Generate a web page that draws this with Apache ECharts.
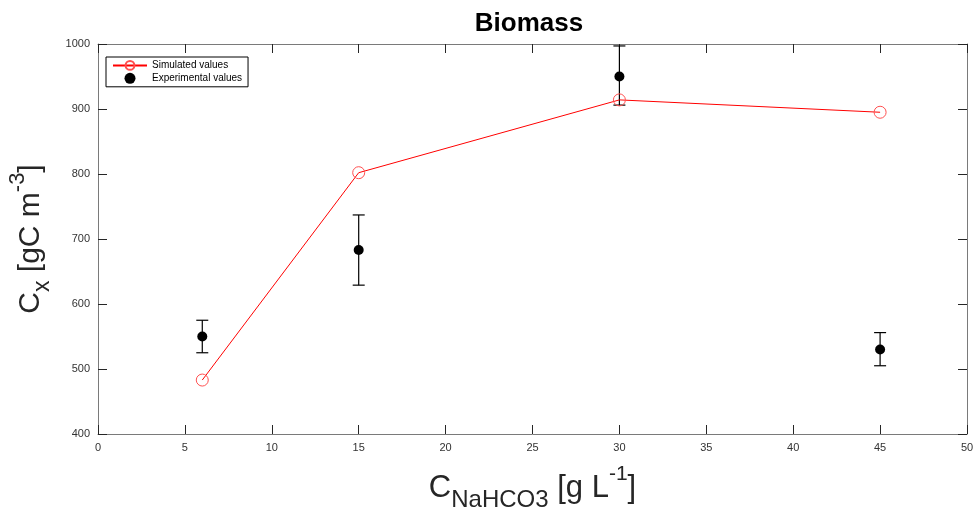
<!DOCTYPE html>
<html><head><meta charset="utf-8">
<script src="https://cdn.jsdelivr.net/npm/echarts@6/dist/echarts.min.js"></script>
<style>html,body{margin:0;padding:0;background:#fff}#c{width:974px;height:513px}</style>
</head><body><div id="c"></div>
<script>
var xValues = [6, 15, 30, 45];
var simulated = [483, 802, 914, 895];
var experimental = [550, 683, 950, 530];
var expLow = [525, 629, 906, 505];
var expHigh = [575, 737, 997, 556];
var xTicks = [0, 5, 10, 15, 20, 25, 30, 35, 40, 45, 50];
var yTicks = [400, 500, 600, 700, 800, 900, 1000];

var chart = echarts.init(document.getElementById('c'));
var font = 'Liberation Sans, Arial, sans-serif';
var axisCommon = {
  axisLine: {show: true, onZero: false, lineStyle: {color: '#7a7a7a', width: 1}},
  axisTick: {show: true, inside: true, length: 9, lineStyle: {color: '#262626'}},
  splitLine: {show: false},
  axisLabel: {color: '#333', fontSize: 11, fontFamily: font, formatter: function (v) { return String(v); }}
};
function mk(base, extra) {
  var o = {};
  for (var k in base) o[k] = Object.assign({}, base[k]);
  for (var k2 in extra) {
    if (o[k2] && typeof extra[k2] === 'object' && !Array.isArray(extra[k2])) o[k2] = Object.assign(o[k2], extra[k2]);
    else o[k2] = extra[k2];
  }
  return o;
}
function richSet(main, sub, sup) {
  return {
    a: {fontSize: main, lineHeight: 48, fontFamily: font, color: '#262626', verticalAlign: 'middle'},
    b: {fontSize: sub, lineHeight: 48, fontFamily: font, color: '#262626', verticalAlign: 'bottom'},
    c: {fontSize: sup, lineHeight: 48, fontFamily: font, color: '#262626', verticalAlign: 'top'}
  };
}

var errData = xValues.map(function (x, i) { return [x, expLow[i], expHigh[i]]; });

chart.setOption({
  animation: false,
  title: {
    text: 'Biomass', left: 524, top: 6, textAlign: 'center',
    textStyle: {fontSize: 26, fontWeight: 'bold', color: '#000', fontFamily: font}
  },
  grid: {left: 98, right: 7, top: 44, bottom: 79, containLabel: false, outerBoundsMode: 'none'},
  legend: {
    orient: 'vertical', left: 106, top: 57,
    borderColor: '#000', borderWidth: 1, padding: [3, 6, 3, 6],
    itemGap: 2, itemWidth: 34, itemHeight: 11,
    backgroundColor: '#fff',
    textStyle: {fontSize: 10, color: '#000', fontFamily: font},
    data: [{name: 'Simulated values'}, {name: 'Experimental values', icon: 'circle', itemStyle: {color: '#000'}}]
  },
  xAxis: [
    mk(axisCommon, {
      type: 'value', min: 0, max: 50, interval: 5, position: 'bottom',
      name: '{a|C}{b|NaHCO3}{a| [g L}{c|-1}{a|]}',
      nameLocation: 'middle', nameGap: 30,
      nameTextStyle: {fontFamily: font, color: '#262626', rich: richSet(31, 24, 21)}
    }),
    mk(axisCommon, {
      type: 'value', min: 0, max: 50, interval: 5, position: 'top',
      axisLabel: {show: false}
    })
  ],
  yAxis: [
    mk(axisCommon, {
      type: 'value', min: 400, max: 1000, interval: 100, position: 'left',
      name: '{a|C}{b|x}{a| [gC m}{c|-3}{a|]}',
      nameLocation: 'middle', nameGap: 42, nameRotate: 90,
      nameTextStyle: {fontFamily: font, color: '#262626', rich: richSet(30, 23, 22)}
    }),
    mk(axisCommon, {
      type: 'value', min: 400, max: 1000, interval: 100, position: 'right',
      axisLabel: {show: false}
    })
  ],
  series: [
    {
      name: 'Simulated values', type: 'line',
      data: xValues.map(function (x, i) { return [x, simulated[i]]; }),
      symbol: 'circle', symbolSize: 12, showSymbol: true,
      lineStyle: {color: '#ff0000', width: 1},
      itemStyle: {color: 'rgba(255,255,255,0)', borderColor: '#ff5050', borderWidth: 1},
      z: 3
    },
    {
      name: 'Experimental values', type: 'custom',
      data: errData,
      renderItem: function (params, api) {
        var x = api.value(0);
        var lo = api.coord([x, api.value(1)]);
        var hi = api.coord([x, api.value(2)]);
        var w = 6;
        var st = {stroke: '#000', lineWidth: 1.2};
        return {
          type: 'group',
          children: [
            {type: 'line', shape: {x1: lo[0], y1: lo[1], x2: hi[0], y2: hi[1]}, style: st},
            {type: 'line', shape: {x1: lo[0] - w, y1: lo[1], x2: lo[0] + w, y2: lo[1]}, style: st},
            {type: 'line', shape: {x1: hi[0] - w, y1: hi[1], x2: hi[0] + w, y2: hi[1]}, style: st}
          ]
        };
      },
      itemStyle: {color: '#000'},
      z: 2
    },
    {
      name: 'Experimental values', type: 'scatter',
      data: xValues.map(function (x, i) { return [x, experimental[i]]; }),
      symbol: 'circle', symbolSize: 10,
      itemStyle: {color: '#000', opacity: 1},
      z: 4
    }
  ]
});
</script></body></html>
